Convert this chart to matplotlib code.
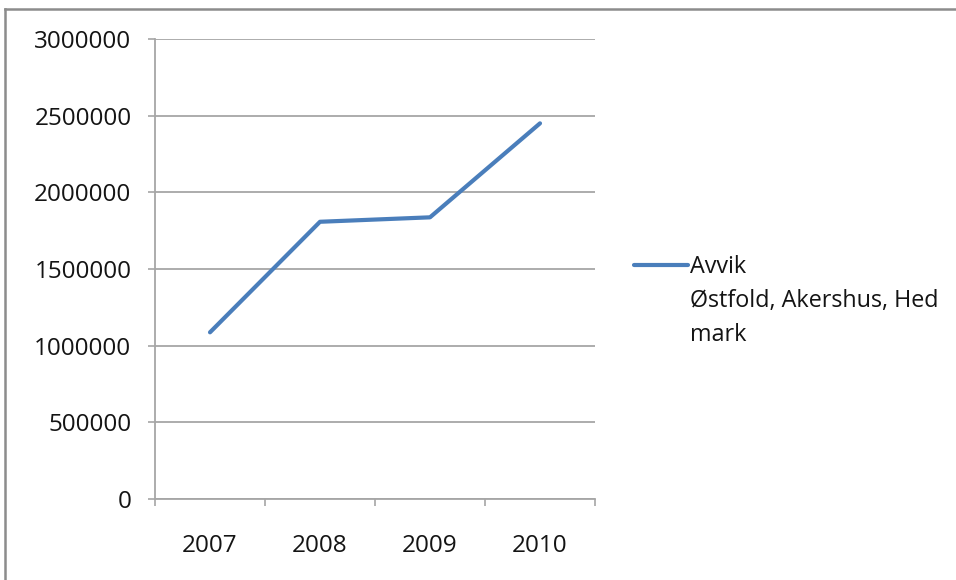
import matplotlib
matplotlib.use("Agg")
import matplotlib.pyplot as plt
from matplotlib.lines import Line2D
from matplotlib.ticker import FixedLocator, NullFormatter, FixedFormatter

plt.rcParams['font.family'] = ['Open Sans', 'DejaVu Sans']

years = ["2007", "2008", "2009", "2010"]
avvik = [1087000, 1808000, 1837000, 2450000]
y_ticks = [0, 500000, 1000000, 1500000, 2000000, 2500000, 3000000]
series_label = "Avvik\nØstfold, Akershus, Hed\nmark"

W, H = 956, 580
fig = plt.figure(figsize=(W / 100, H / 100), dpi=100)
fig.patch.set_facecolor("white")

ax = fig.add_axes([155 / W, 1 - 499 / H, 440 / W, 460 / H])

x = list(range(1, len(years) + 1))
line_color = "#4A7EBB"
ax.plot(x, avvik, color=line_color, lw=3.0, solid_capstyle="round",
        solid_joinstyle="round", zorder=3)

grid_color = "#A6A6A6"
text_color = "#141414"
fs = 17.5
ax.set_ylim(0, 3000000)
ax.set_xlim(0.5, len(years) + 0.5)
ax.yaxis.set_major_locator(FixedLocator(y_ticks))
ax.set_yticklabels([str(v) for v in y_ticks])
ax.yaxis.grid(True, color=grid_color, lw=1.3)
ax.set_axisbelow(True)

# category boundaries carry the tick marks, centres carry the labels
ax.xaxis.set_major_locator(FixedLocator([i + 0.5 for i in range(len(years) + 1)]))
ax.xaxis.set_major_formatter(NullFormatter())
ax.xaxis.set_minor_locator(FixedLocator(x))
ax.xaxis.set_minor_formatter(FixedFormatter(years))
ax.tick_params(axis="x", which="major", length=5, width=1.2, color=grid_color,
               direction="out")
ax.tick_params(axis="x", which="minor", length=0, pad=25, labelsize=fs,
               labelcolor=text_color)
ax.tick_params(axis="y", length=5, width=1.2, color=grid_color, pad=12,
               labelsize=fs, labelcolor=text_color)

for s in ("top", "right"):
    ax.spines[s].set_visible(False)
for s in ("left", "bottom"):
    ax.spines[s].set_color(grid_color)
    ax.spines[s].set_linewidth(1.3)

# legend entry
fig.add_artist(Line2D([634 / W, 688 / W], [1 - 265 / H, 1 - 265 / H],
                      color=line_color, lw=3.0, solid_capstyle="round"))
fig.text(690 / W, 1 - 255 / H, series_label, ha="left", va="top",
         fontsize=16.8, color=text_color, linespacing=1.56)

# chart frame
frame_color = "#8C8C8C"
fig.add_artist(Line2D([5 / W, 1.0], [1 - 9 / H, 1 - 9 / H], color=frame_color, lw=1.8))
fig.add_artist(Line2D([5 / W, 5 / W], [0, 1 - 9 / H], color=frame_color, lw=1.8))

fig.savefig("out.png", dpi=100, facecolor="white")
